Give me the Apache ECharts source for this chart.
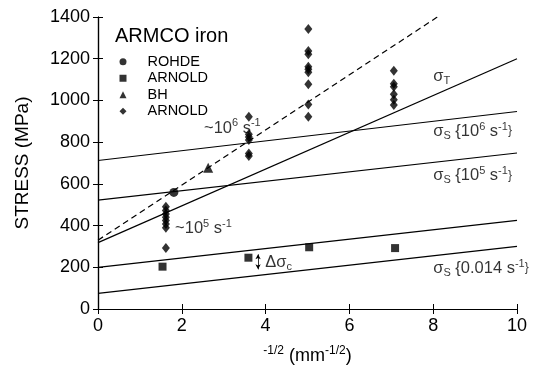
<!DOCTYPE html>
<html>
<head>
<meta charset="utf-8">
<script src="https://cdn.jsdelivr.net/npm/echarts@6/dist/echarts.min.js"></script>
<style>html,body{margin:0;padding:0;background:#fff}#c{width:537px;height:375px}</style>
</head>
<body>
<div id="c"></div>
<script>
// ---- data ----
const xTicks = [0, 2, 4, 6, 8, 10];
const yTicks = [0, 200, 400, 600, 800, 1000, 1200, 1400];

const fitX = [0, 10];
const sigmaS_0014 = [75, 300];
const sigmaS_0014_dc = [200, 425];
const sigmaS_1e5 = [522, 748];
const sigmaS_1e6 = [712, 947];
const sigmaT = [318, 1200];
const dashX = [0, 8.1];
const dashY = [330, 1400];

const rohde = [[1.81, 559]];
const arnoldSquares = [[1.54, 203], [3.59, 246], [5.04, 296], [7.09, 292]];
const bh = [[2.63, 677]];
const arnoldDiamondX = [1.62, 3.6, 5.02, 7.06];
const arnoldDiamondY = [
  [490, 472, 456, 440, 424, 408, 390, 293],
  [922, 838, 825, 810, 746, 734],
  [1342, 1237, 1222, 1162, 1149, 1135, 1077, 981, 922],
  [1142, 1080, 1066, 1030, 1003, 978]
];

const annotations = [
  { pos: [2.53, 868], text: '{n|~10}{sup|6}{n| s}{sup|-1}' },
  { pos: [1.84, 387], text: '{n|~10}{sup|5}{n| s}{sup|-1}' },
  { pos: [3.99, 225], text: '{n|\u0394\u03c3}{sub|c}' },
  { pos: [8.0, 1115], text: '{n|\u03c3}{sub|T}' },
  { pos: [8.0, 853], text: '{n|\u03c3}{sub|S}{n| {10}{sup|6}{n| s}{sup|-1}{n|}}' },
  { pos: [8.0, 640], text: '{n|\u03c3}{sub|S}{n| {10}{sup|5}{n| s}{sup|-1}{n|}}' },
  { pos: [8.0, 196], text: '{n|\u03c3}{sub|S}{n| {0.014 s}{sup|-1}{n|}}' }
];
const deltaArrow = [[3.82, 262], [3.82, 190]];

// ---- build ----
const FONT = 'Liberation Sans';
const pairs = (xs, ys) => xs.map((x, i) => [x, ys[i]]);
const diamonds = [];
arnoldDiamondX.forEach((x, i) => arnoldDiamondY[i].forEach(y => diamonds.push([x, y])));

const fitLine = (ys) => ({
  type: 'line', data: pairs(fitX, ys), symbol: 'none', silent: true,
  lineStyle: { color: '#000', width: 1.2, type: 'solid' }
});

const rich = {
  n: { fontSize: 16.5, fontFamily: FONT, color: '#000', lineHeight: 20 },
  sup: { fontSize: 11, fontFamily: FONT, color: '#000', verticalAlign: 'top', lineHeight: 11 },
  sub: { fontSize: 11, fontFamily: FONT, color: '#000', verticalAlign: 'bottom', lineHeight: 11 }
};

const axisCommon = {
  min: 0, axisLine: { lineStyle: { color: '#000', width: 1.2 } },
  axisTick: { inside: true, length: 5, lineStyle: { color: '#000' } },
  splitLine: { show: false }
};

const option = {
  animation: false,
  backgroundColor: '#fff',
  title: { text: 'ARMCO iron', left: 110, top: 21,
    textStyle: { fontSize: 20, fontWeight: 'normal', fontFamily: FONT, color: '#000' } },
  legend: {
    orient: 'vertical', left: 114.5, top: 49, itemWidth: 7, itemHeight: 7, itemGap: 1,
    selectedMode: false,
    textStyle: { fontSize: 14.5, fontFamily: FONT, color: '#000', lineHeight: 15.5, padding: [0, 0, 0, 16] },
    data: [
      { name: 'ROHDE', icon: 'circle' },
      { name: 'ARNOLD', icon: 'rect' },
      { name: 'BH', icon: 'triangle' },
      { name: 'ARNOLD ', icon: 'diamond' }
    ]
  },
  grid: { left: 98, right: 20, top: 17, bottom: 66 },
  xAxis: [
    Object.assign({}, axisCommon, {
      type: 'value', max: 10, interval: 2, position: 'bottom',
      axisLabel: { fontSize: 18, fontFamily: FONT, color: '#000', margin: 8,
        formatter: v => xTicks.includes(v) ? String(v) : '' },
      name: '{sup|-1/2}{n| (mm}{sup|-1/2}{n|)}', nameLocation: 'middle', nameGap: 36,
      nameTextStyle: { rich: {
        n: { fontSize: 18, fontFamily: FONT, color: '#000', lineHeight: 22 },
        sup: { fontSize: 12, fontFamily: FONT, color: '#000', verticalAlign: 'top', lineHeight: 12 } } }
    }),
    Object.assign({}, axisCommon, { type: 'value', max: 10, interval: 2, position: 'top',
      axisLabel: { show: false } })
  ],
  yAxis: [
    Object.assign({}, axisCommon, {
      type: 'value', max: 1400, interval: 200, position: 'left',
      axisLabel: { fontSize: 18, fontFamily: FONT, color: '#000', margin: 8,
        formatter: v => yTicks.includes(v) ? String(v) : '' },
      name: 'STRESS (MPa)', nameLocation: 'middle', nameGap: 66, nameRotate: 90,
      nameTextStyle: { fontSize: 19, fontFamily: FONT, color: '#000' }
    }),
    Object.assign({}, axisCommon, { type: 'value', max: 1400, interval: 200, position: 'right',
      axisLabel: { show: false } })
  ],
  series: [
    fitLine(sigmaS_0014),
    fitLine(sigmaS_0014_dc),
    fitLine(sigmaS_1e5),
    fitLine(sigmaS_1e6),
    fitLine(sigmaT),
    { type: 'line', data: pairs(dashX, dashY), symbol: 'none', silent: true,
      lineStyle: { color: '#000', width: 1.2, type: [6, 4] } },
    { name: 'ROHDE', type: 'scatter', data: rohde, symbol: 'circle', symbolSize: 9,
      itemStyle: { color: '#000' } },
    { name: 'ARNOLD', type: 'scatter', data: arnoldSquares, symbol: 'rect', symbolSize: 8,
      itemStyle: { color: '#000' } },
    { name: 'BH', type: 'scatter', data: bh, symbol: 'triangle', symbolSize: 10,
      itemStyle: { color: '#000' } },
    { name: 'ARNOLD ', type: 'scatter', data: diamonds, symbol: 'diamond', symbolSize: [8, 10],
      itemStyle: { color: '#000' } },
    { type: 'scatter', silent: true, symbolSize: 0,
      data: annotations.map(a => ({ value: a.pos, label: { formatter: a.text } })),
      label: { show: true, position: 'right', distance: 0, color: '#000', rich: rich },
      markLine: { silent: true, symbol: ['arrow', 'arrow'], symbolSize: [4, 5],
        label: { show: false }, lineStyle: { color: '#000', width: 0.8, type: 'solid' },
        data: [[{ coord: deltaArrow[0] }, { coord: deltaArrow[1] }]] }
    }
  ]
};
const chart = echarts.init(document.getElementById('c'), null, { renderer: 'canvas' });
chart.setOption(option);
</script>
</body>
</html>
